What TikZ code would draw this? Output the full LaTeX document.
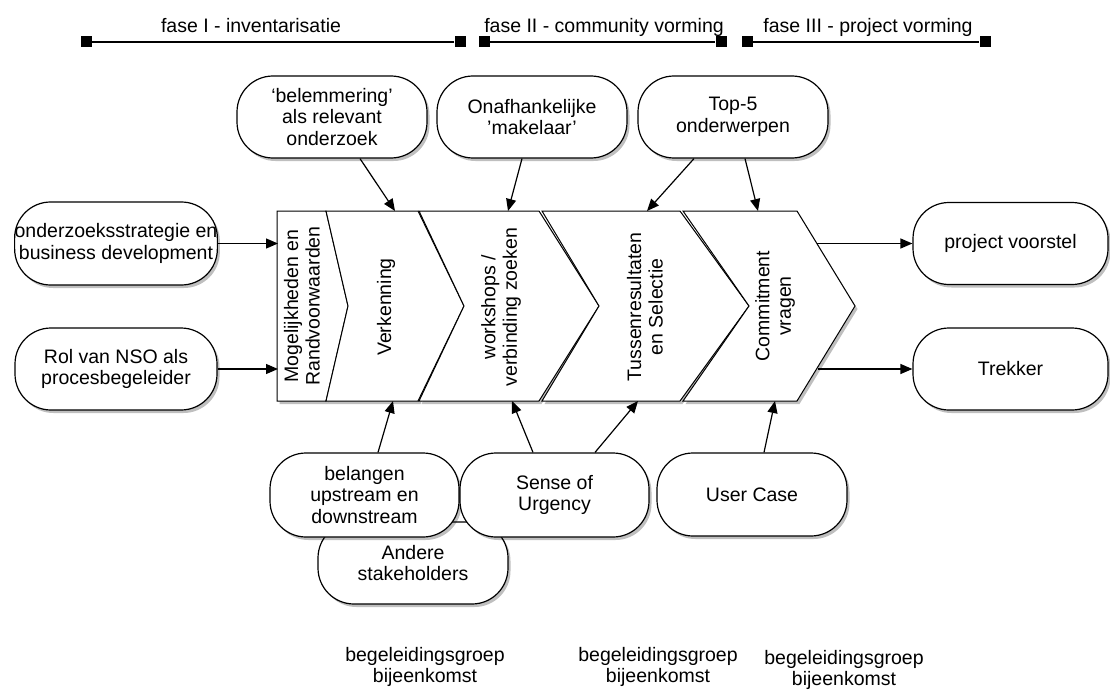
\documentclass[tikz,border=0pt]{standalone}
\usepackage{fontspec}
\setmainfont{Liberation Sans}
\usetikzlibrary{arrows.meta,shadows,calc}
\begin{document}
\begin{tikzpicture}[x=1pt,y=-1pt,
  every node/.style={font=\fontsize{19.5}{21.5}\selectfont, align=center, text=black},
  softshadow/.style={drop shadow={shadow xshift=2.5pt, shadow yshift=-3pt, opacity=0.25, fill=black}},
  rbox/.style={draw, line width=1.2pt, fill=white, rounded corners=36pt,
    minimum width=190pt, minimum height=82pt, inner sep=0pt, softshadow},
  chev/.style={draw, line width=1pt, fill=white, line join=miter, softshadow},
  arr/.style={line width=1.2pt, -{Triangle[length=12pt,width=10pt]}},
  sq/.style={fill=black, minimum size=11pt, inner sep=0pt},
  phaseline/.style={line width=1.4pt},
  vlabel/.style={rotate=90, align=center}
]
\useasboundingbox (0,0) rectangle (1110,690);

% --- phase bars ---
\node[sq] (p1a) at (86,42) {};
\node[sq] (p1b) at (460,42) {};
\node[sq] (p2a) at (484,42) {};
\node[sq] (p2b) at (721,42) {};
\node[sq] (p3a) at (747,42) {};
\node[sq] (p3b) at (985,42) {};
\draw[phaseline] (p1a) -- (p1b);
\draw[phaseline] (p2a) -- (p2b);
\draw[phaseline] (p3a) -- (p3b);
\node[anchor=base] (f1) at (251,33) {fase I - inventarisatie};
\node[anchor=base] (f2) at (604,33) {fase II - community vorming};
\node[anchor=base] (f3) at (868,33) {fase III - project vorming};

% --- process chevrons ---
\draw[chev] (277,211) -- (326,211) -- (348,306) -- (326,401) -- (277,401) -- cycle;
\draw[chev] (326,211) -- (418,211) -- (464,306) -- (418,401) -- (326,401) -- (348,306) -- cycle;
\draw[chev] (419,211) -- (539,211) -- (599,306) -- (539,401) -- (419,401) -- (464,306) -- cycle;
\draw[chev] (542,211) -- (680,211) -- (749,306) -- (680,401) -- (542,401) -- (599,306) -- cycle;
\draw[chev] (683,211) -- (797,211) -- (855,306) -- (797,401) -- (683,401) -- (749,306) -- cycle;

\node[vlabel] (c1) at (302,306) {Mogelijkheden en\\Randvoorwaarden};
\node[vlabel] (c2) at (386,307) {Verkenning};
\node[vlabel] (c3) at (501,307) {workshops /\\verbinding zoeken};
\node[vlabel] (c4) at (645,307) {Tussenresultaten\\en Selectie};
\node[vlabel] (c5) at (775,306) {Commitment\\vragen};

% connection points on the chevron band
\coordinate (in1) at (395,211);
\coordinate (in2) at (508,211);
\coordinate (in3) at (647,211);
\coordinate (in4) at (758,211);
\coordinate (inL1) at (278,243.5);
\coordinate (inL2) at (278,369);
\coordinate (out1) at (817,243.5);
\coordinate (out2) at (817.5,369);
\coordinate (inB1) at (393,401);
\coordinate (inB2) at (512,401);
\coordinate (inB3) at (638,401);
\coordinate (inB4) at (775,401);

% --- top inputs ---
\node[rbox] (t1) at (332,117) {‘belemmering’\\als relevant\\onderzoek};
\node[rbox] (t2) at (532,117) {Onafhankelijke\\'makelaar'};
\node[rbox] (t3) at (733,117) {Top-5\\onderwerpen};

% --- left inputs ---
\node[rbox, minimum width=202pt, minimum height=83pt] (l1) at (116,243.5) {onderzoeksstrategie en\\business development};
\node[rbox, minimum width=202pt] (l2) at (116,369) {Rol van NSO als\\procesbegeleider};

% --- outputs ---
\node[rbox, minimum width=195pt] (r1) at (1010.5,243.5) {project voorstel};
\node[rbox, minimum width=195pt] (r2) at (1010.5,369) {Trekker};

% --- bottom inputs (Andere stakeholders sits behind the two boxes above it) ---
\node[rbox] (b3) at (413,563) {Andere\\stakeholders};
\node[rbox, minimum width=189pt, minimum height=84pt] (b1) at (364.5,495) {belangen\\upstream en\\downstream};
\node[rbox, minimum width=189pt, minimum height=84pt] (b2) at (554.5,495) {Sense of\\Urgency};
\node[rbox, minimum height=83pt] (b4) at (752,494.5) {User Case};

% --- connectors ---
\draw[arr] ([xshift=28pt]t1.south) -- (in1);
\draw[arr] ([xshift=-10pt]t2.south) -- (in2);
\draw[arr] ([xshift=-39pt]t3.south) -- (in3);
\draw[arr] ([xshift=12pt]t3.south) -- (in4);
\draw[arr] (l1.east) -- (inL1);
\draw[arr] (l2.east) -- (inL2);
\draw[arr] (out1) -- (r1.west);
\draw[arr] (out2) -- (r2.west);
\draw[arr] ([xshift=13.5pt]b1.north) -- (inB1);
\draw[arr] ([xshift=-21.5pt]b2.north) -- (inB2);
\draw[arr] ([xshift=40.5pt]b2.north) -- (inB3);
\draw[arr] ([xshift=12pt]b4.north) -- (inB4);

% --- meeting labels ---
\node (m1) at (425,667) {begeleidingsgroep\\bijeenkomst};
\node (m2) at (658,667) {begeleidingsgroep\\bijeenkomst};
\node (m3) at (844,670) {begeleidingsgroep\\bijeenkomst};
\end{tikzpicture}
\end{document}
